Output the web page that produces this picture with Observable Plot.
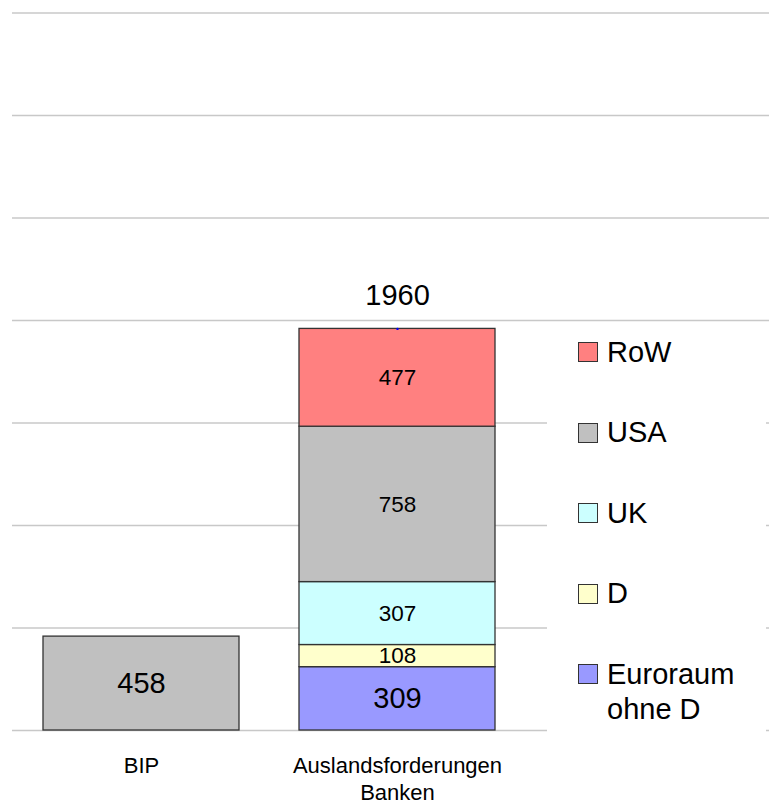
<!DOCTYPE html>
<html>
<head>
<meta charset="utf-8">
<script src="https://cdn.jsdelivr.net/npm/d3@7"></script>
<script src="https://cdn.jsdelivr.net/npm/@observablehq/plot@0.6"></script>
<style>
  html, body { margin: 0; padding: 0; background: #fff; }
  body { width: 769px; height: 804px; position: relative; overflow: hidden;
         font-family: "Liberation Sans", Arial, sans-serif; color: #000; }
  #legend { position: absolute; left: 547px; top: 331px; width: 219px; height: 410px;
            background: #fff; box-sizing: border-box; padding-left: 31px; padding-top: 3.5px;
            display: flex; flex-direction: column; gap: 45.5px; }
  .item { display: flex; align-items: flex-start; font-size: 29px; line-height: 35px; }
  .sw { width: 18px; height: 18px; border: 1px solid #333; margin-top: 7.5px; margin-right: 9px; flex: none; }
</style>
</head>
<body>
<div id="chart"></div>
<div id="legend"></div>
<script>
// ---- data ----
const categories = ["BIP", "Auslandsforderungen\nBanken"];
const bipSeries = ["BIP"];
const bipValues = [458];
const seriesNames = ["Euroraum ohne D", "D", "UK", "USA", "RoW"];
const seriesValues = [309, 108, 307, 758, 477];
const seriesColors = ["#9999FF", "#FFFFCC", "#CCFFFF", "#C0C0C0", "#FF8080"];
const bipColor = "#C0C0C0";
const totalLabels = ["1960"];
const gridTicks = [0, 500, 1000, 1500, 2000, 2500, 3000, 3500];
const legendOrder = ["RoW", "USA", "UK", "D", "Euroraum ohne D"];
const legendLabels = {"Euroraum ohne D": "Euroraum<br>ohne D"};

// ---- build rows ----
const rows = [];
bipSeries.forEach((s, i) => rows.push({cat: categories[0], series: s, value: bipValues[i], color: bipColor}));
seriesNames.forEach((s, i) => rows.push({cat: categories[1], series: s, value: seriesValues[i], color: seriesColors[i]}));
const total = d3.sum(seriesValues);
const totals = [{cat: categories[1], value: total, label: totalLabels[0]}];

const big = new Set(["BIP", "Euroraum ohne D"]);

const font = "'Liberation Sans', Arial, sans-serif";
const plot = Plot.plot({
  width: 769,
  height: 804,
  marginLeft: 12,
  marginRight: 0,
  marginTop: 12,
  marginBottom: 74,
  style: {fontFamily: font, color: "#000", background: "#fff"},
  x: {domain: categories, range: [13, 525], paddingInner: 0.234, paddingOuter: 0.117, axis: null, label: null},
  y: {domain: [0, 3500], range: [730, 12.5], axis: null, label: null},
  marks: [
    Plot.ruleY(gridTicks, {stroke: "#c8c8c8", strokeWidth: 1.6}),
    Plot.barY(rows, Plot.stackY({x: "cat", y: "value", fill: "color", stroke: "#333", strokeWidth: 1.3})),
    Plot.text(rows, Plot.stackY({x: "cat", y: "value", text: d => String(d.value),
      fontSize: d => big.has(d.series) ? 29 : 22.5, lineAnchor: "middle", fill: "#000"})),
    Plot.dot(totals, {x: "cat", y: "value", r: 1.2, fill: "#0000ff", stroke: null}),
    Plot.text(totals, {x: "cat", y: "value", text: "label", fontSize: 29, lineAnchor: "middle", dy: -33, fill: "#000"}),
    Plot.axisX({domain: categories, label: null, tickSize: 0, tickPadding: 24, fontSize: 22, lineHeight: 1.2, fill: "#000"})
  ]
});
document.getElementById("chart").appendChild(plot);

// ---- legend ----
const legend = document.getElementById("legend");
legendOrder.forEach(name => {
  const i = seriesNames.indexOf(name);
  const item = document.createElement("div");
  item.className = "item";
  item.innerHTML = `<span class="sw" style="background:${seriesColors[i]}"></span><span>${legendLabels[name] || name}</span>`;
  legend.appendChild(item);
});
</script>
</body>
</html>
